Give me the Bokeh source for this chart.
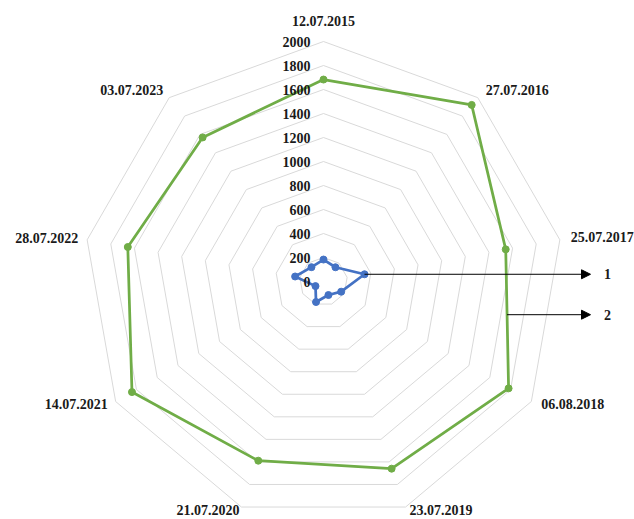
import math
from bokeh.plotting import figure
from bokeh.models import Range1d, ColumnDataSource, Arrow, NormalHead
from bokeh.core.properties import value
from bokeh.embed import file_html
from bokeh.resources import INLINE

categories = ["12.07.2015", "27.07.2016", "25.07.2017", "06.08.2018", "23.07.2019",
              "21.07.2020", "14.07.2021", "28.07.2022", "03.07.2023"]
series_green = [1683, 1921, 1542, 1781, 1660, 1589, 1843, 1656, 1567]
series_blue = [183, 155, 347, 170, 120, 182, 77, 240, 156]
ticks = [0, 200, 400, 600, 800, 1000, 1200, 1400, 1600, 1800, 2000]
annotation_labels = ["1", "2"]

# layout / style
W, H = 634, 519
RMAX = 2000
PX = RMAX / 240.0          # data units per pixel
CX, CY = 323, 281          # centre in pixels
FONT = value("Liberation Serif")
GREEN = "#70AD47"
BLUE = "#4472C4"
GRID = "#D9D9D9"

n = len(categories)
angles = [2 * math.pi * i / n for i in range(n)]

def pol(r, a):
    return r * math.sin(a), r * math.cos(a)

p = figure(width=W, height=H, output_backend="svg", toolbar_location=None,
           x_range=Range1d(-CX * PX, (W - CX) * PX),
           y_range=Range1d(-(H - CY) * PX, CY * PX),
           min_border=0)
p.axis.visible = False
p.grid.visible = False
p.outline_line_color = None
p.background_fill_color = "white"
p.border_fill_color = "white"

# grid rings
rx, ry = [], []
for t in ticks[1:]:
    xs = [pol(t, a)[0] for a in angles] + [pol(t, angles[0])[0]]
    ys = [pol(t, a)[1] for a in angles] + [pol(t, angles[0])[1]]
    rx.append(xs)
    ry.append(ys)
p.multi_line(rx, ry, line_color=GRID, line_width=1)

# series
for vals, col in ((series_green, GREEN), (series_blue, BLUE)):
    xs = [pol(v, a)[0] for v, a in zip(vals, angles)]
    ys = [pol(v, a)[1] for v, a in zip(vals, angles)]
    p.line(xs + [xs[0]], ys + [ys[0]], line_color=col, line_width=2.75)
    p.scatter(xs, ys, size=7, fill_color=col, line_color=col)

# tick labels
p.text(x=[0] * len(ticks), y=ticks, text=[str(t) for t in ticks],
       x_offset=-13, text_align="right", text_baseline="middle",
       text_font=FONT, text_font_style="bold", text_font_size="14px",
       text_color="#1a1a1a")

# category labels
aligns = ["center", "left", "left", "left", "left", "right", "right", "right", "right"]
xoffs = [0, 8, 11, 10, 4, -2, -8, -9, -6]
yoffs = [-21, -8, -3, 2, 3, 3, 2, -2, -8]
lx = [pol(RMAX, a)[0] for a in angles]
ly = [pol(RMAX, a)[1] for a in angles]
src = ColumnDataSource(dict(x=lx, y=ly, t=categories, al=aligns, xo=xoffs, yo=yoffs))
p.text(x="x", y="y", text="t", text_align="al", x_offset="xo", y_offset="yo",
       text_baseline="middle", text_font=FONT, text_font_style="bold",
       text_font_size="14px", text_color="#1a1a1a", source=src)

# annotation arrows
end_x = (590 - CX) * PX
lab_x = (607 - CX) * PX
bx, by = pol(series_blue[2], angles[2])
g1 = pol(series_green[2], angles[2])
g2 = pol(series_green[3], angles[3])
f = 0.47
gx = g1[0] + f * (g2[0] - g1[0])
gy = g1[1] + f * (g2[1] - g1[1])
for (sx, sy) in ((bx, by), (gx, gy)):
    p.add_layout(Arrow(x_start=sx, y_start=sy, x_end=end_x, y_end=sy,
                       line_color="black", line_width=1,
                       end=NormalHead(size=9, fill_color="black", line_color="black")))
p.text(x=[lab_x, lab_x], y=[by, gy], text=annotation_labels, text_align="center",
       text_baseline="middle", text_font=FONT, text_font_style="bold",
       text_font_size="14px", text_color="#1a1a1a")

open("out.html", "w").write(file_html(p, INLINE))
